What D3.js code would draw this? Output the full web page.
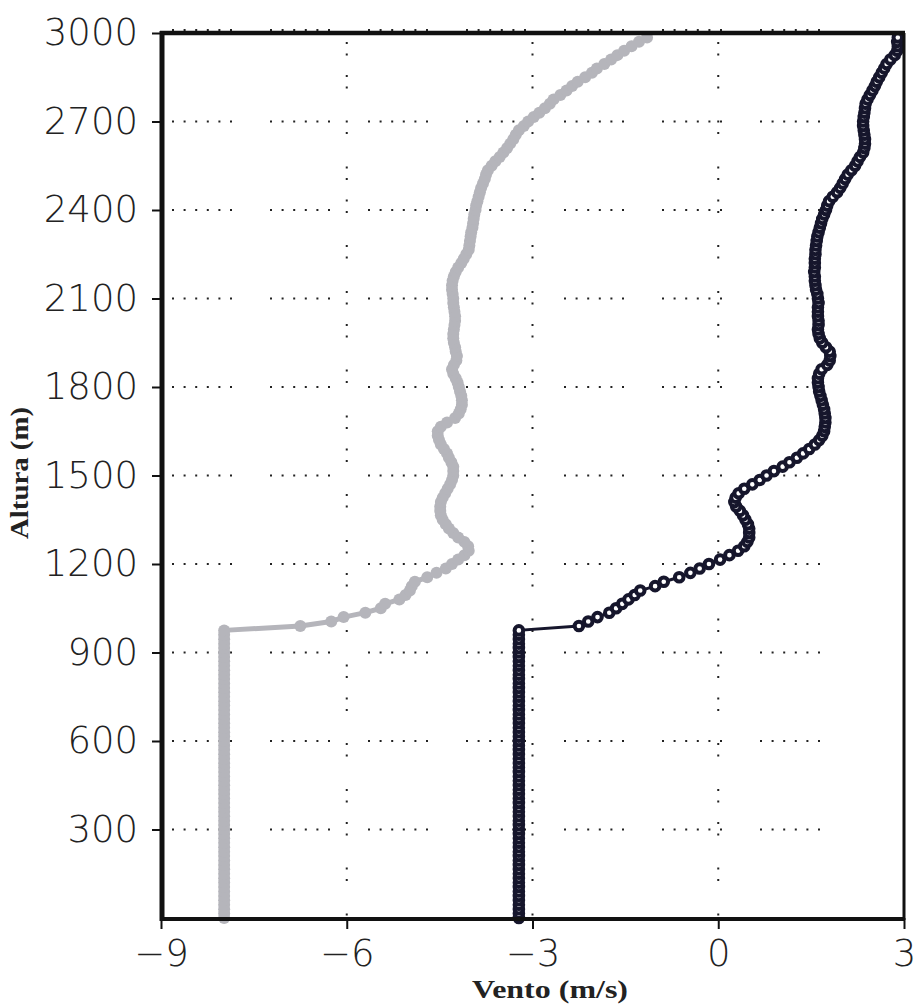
<!DOCTYPE html>
<html>
<head>
<meta charset="utf-8">
<script src="https://cdn.jsdelivr.net/npm/d3@7"></script>
<style>
  body { margin: 0; background: #fff; }
  svg { display: block; }
</style>
</head>
<body>
<svg id="chart" width="915" height="1007"></svg>
<script>
// niveis de altura (m) - sondagem a cada ~15 m
const alturas = [
  0,15,30,45,60,75,90,105,120,135,150,165,180,195,210,225,240,255,270,285,
  300,315,330,345,360,375,390,405,420,435,450,465,480,495,510,525,540,555,570,585,
  600,615,630,645,660,675,690,705,720,735,750,765,780,795,810,825,840,855,870,885,
  900,915,930,945,960,975,
  990,1005,1020,1035,1050,1065,1080,1095,1110,1125,
  1140,1155,1170,1185,1200,1215,1230,1245,1260,1275,
  1290,1305,1320,1335,1350,1365,1380,1395,1410,1425,
  1440,1455,1470,1485,1500,1515,1530,1545,1560,1575,
  1590,1605,1620,1635,1650,1665,1680,1695,1710,1725,
  1740,1755,1770,1785,1800,1815,1830,1845,1860,1875,
  1890,1905,1920,1935,1950,1965,1980,1995,2010,2025,
  2040,2055,2070,2085,2100,2115,2130,2145,2160,2175,
  2190,2205,2220,2235,2250,2265,2280,2295,2310,2325,
  2340,2355,2370,2385,2400,2415,2430,2445,2460,2475,
  2490,2505,2520,2535,2550,2565,2580,2595,2610,2625,
  2640,2655,2670,2685,2700,2715,2730,2745,2760,2775,
  2790,2805,2820,2835,2850,2865,2880,2895,2910,2925,
  2940,2955,2970,2985
];

// componente cinza (m/s)
const ventoCinza = [
  -7.98,-7.98,-7.98,-7.98,-7.98,-7.98,-7.98,-7.98,-7.98,-7.98,-7.98,-7.98,-7.98,-7.98,-7.98,-7.98,-7.98,-7.98,-7.98,-7.98,
  -7.98,-7.98,-7.98,-7.98,-7.98,-7.98,-7.98,-7.98,-7.98,-7.98,-7.98,-7.98,-7.98,-7.98,-7.98,-7.98,-7.98,-7.98,-7.98,-7.98,
  -7.98,-7.98,-7.98,-7.98,-7.98,-7.98,-7.98,-7.98,-7.98,-7.98,-7.98,-7.98,-7.98,-7.98,-7.98,-7.98,-7.98,-7.98,-7.98,-7.98,
  -7.98,-7.98,-7.98,-7.98,-7.98,-7.98,
  -6.75,-6.25,-6.05,-5.70,-5.45,-5.38,-5.15,-5.05,-4.98,-4.95,
  -4.90,-4.70,-4.55,-4.40,-4.30,-4.20,-4.10,-4.03,-4.04,-4.10,
  -4.20,-4.28,-4.35,-4.40,-4.45,-4.48,-4.49,-4.49,-4.48,-4.45,
  -4.41,-4.37,-4.33,-4.30,-4.28,-4.28,-4.28,-4.31,-4.35,-4.38,
  -4.43,-4.48,-4.51,-4.53,-4.53,-4.48,-4.38,-4.25,-4.19,-4.16,
  -4.14,-4.14,-4.15,-4.17,-4.19,-4.21,-4.24,-4.28,-4.30,-4.27,
  -4.23,-4.22,-4.24,-4.25,-4.27,-4.28,-4.28,-4.27,-4.26,-4.25,
  -4.25,-4.26,-4.27,-4.28,-4.28,-4.29,-4.30,-4.30,-4.29,-4.27,
  -4.24,-4.20,-4.15,-4.11,-4.07,-4.03,-4.02,-4.01,-4.00,-3.99,
  -3.97,-3.96,-3.95,-3.94,-3.92,-3.91,-3.89,-3.87,-3.85,-3.83,
  -3.80,-3.77,-3.75,-3.72,-3.66,-3.60,-3.53,-3.47,-3.41,-3.36,
  -3.31,-3.27,-3.22,-3.14,-3.07,-2.98,-2.89,-2.80,-2.72,-2.66,
  -2.55,-2.45,-2.36,-2.27,-2.15,-2.04,-1.96,-1.84,-1.73,-1.63,
  -1.52,-1.40,-1.28,-1.15
];

// componente escura (m/s)
const ventoEscuro = [
  -3.22,-3.22,-3.22,-3.22,-3.22,-3.22,-3.22,-3.22,-3.22,-3.22,-3.22,-3.22,-3.22,-3.22,-3.22,-3.22,-3.22,-3.22,-3.22,-3.22,
  -3.22,-3.22,-3.22,-3.22,-3.22,-3.22,-3.22,-3.22,-3.22,-3.22,-3.22,-3.22,-3.22,-3.22,-3.22,-3.22,-3.22,-3.22,-3.22,-3.22,
  -3.22,-3.22,-3.22,-3.22,-3.22,-3.22,-3.22,-3.22,-3.22,-3.22,-3.22,-3.22,-3.22,-3.22,-3.22,-3.22,-3.22,-3.22,-3.22,-3.22,
  -3.22,-3.22,-3.22,-3.22,-3.22,-3.22,
  -2.25,-2.10,-1.95,-1.76,-1.65,-1.55,-1.45,-1.35,-1.26,-1.02,
  -0.88,-0.63,-0.45,-0.30,-0.15,0.03,0.18,0.32,0.42,0.47,
  0.50,0.50,0.50,0.48,0.44,0.40,0.35,0.29,0.26,0.28,
  0.33,0.42,0.55,0.67,0.78,0.90,1.04,1.15,1.27,1.37,
  1.47,1.56,1.63,1.68,1.71,1.72,1.73,1.73,1.72,1.71,
  1.69,1.67,1.65,1.63,1.62,1.61,1.61,1.63,1.67,1.76,
  1.80,1.81,1.80,1.74,1.68,1.64,1.62,1.61,1.62,1.62,
  1.61,1.61,1.61,1.62,1.61,1.60,1.58,1.57,1.56,1.56,
  1.55,1.56,1.56,1.56,1.57,1.57,1.58,1.59,1.60,1.62,
  1.64,1.66,1.68,1.71,1.74,1.76,1.79,1.85,1.92,1.97,
  2.01,2.05,2.09,2.15,2.21,2.25,2.29,2.34,2.36,2.37,
  2.37,2.36,2.35,2.34,2.34,2.35,2.36,2.37,2.38,2.41,
  2.45,2.49,2.53,2.56,2.60,2.64,2.68,2.72,2.78,2.85,
  2.89,2.90,2.89,2.90
];

const xTicks = [-9, -6, -3, 0, 3];
const yTicks = [300, 600, 900, 1200, 1500, 1800, 2100, 2400, 2700, 3000];
const xGrid = [-6, -3, 0];
const yGrid = [300, 600, 900, 1200, 1500, 1800, 2100, 2400, 2700, 3000];

const mLeft = 161, mRight = 904, mTop = 33, mBottom = 918;

const svg = d3.select("#chart");

const x = d3.scaleLinear().domain([-9, 3]).range([mLeft, mRight]);
const y = d3.scaleLinear().domain([0, 3000]).range([mBottom, mTop]);

const tickFont = "'DejaVu Sans', sans-serif";

// grade pontilhada
const grid = svg.append("g").attr("fill", "none").attr("stroke", "#222").attr("stroke-width", 2);

grid.selectAll("line.h")
  .data(yGrid)
  .join("line")
  .attr("class", "h")
  .attr("x1", x(-9) + 11)
  .attr("x2", x(2.1))
  .attr("y1", d => d == 3000 ? y(d) - 3 : y(d))
  .attr("y2", d => d == 3000 ? y(d) - 3 : y(d))
  .attr("stroke-dasharray", "2,9.6,2,9.6,2,9.6,2,9.6,2,9.6,2,38");

grid.selectAll("line.v")
  .data(xGrid)
  .join("line")
  .attr("class", "v")
  .attr("x1", d => x(d))
  .attr("x2", d => x(d))
  .attr("y1", mTop + 9)
  .attr("y2", mBottom)
  .attr("stroke-dasharray", "2,9.5,2,19.5,2,9.5,2,32,2,9.5,2,32.5");

const pts = alturas.map((h, i) => ({h: h, c: ventoCinza[i], e: ventoEscuro[i]}));

// serie cinza
svg.append("path")
  .datum(pts)
  .attr("fill", "none")
  .attr("stroke", "#b5b5bb")
  .attr("stroke-width", 5)
  .attr("stroke-linejoin", "round")
  .attr("d", d3.line().x(d => x(d.c)).y(d => y(d.h)));

svg.append("g").selectAll("circle")
  .data(pts)
  .join("circle")
  .attr("cx", d => x(d.c))
  .attr("cy", d => y(d.h))
  .attr("r", 6)
  .attr("fill", "#b5b5bb");

// serie escura
svg.append("path")
  .datum(pts)
  .attr("fill", "none")
  .attr("stroke", "#16162c")
  .attr("stroke-width", 3)
  .attr("d", d3.line().x(d => x(d.e)).y(d => y(d.h)));

svg.append("g").selectAll("circle")
  .data(pts)
  .join("circle")
  .attr("cx", d => x(d.e))
  .attr("cy", d => y(d.h))
  .attr("r", 4.3)
  .attr("fill", "#fff")
  .attr("stroke", "#16162c")
  .attr("stroke-width", 4);

// eixos
const yAxis = svg.append("g")
  .attr("transform", `translate(${mLeft},0)`)
  .call(d3.axisLeft(y).tickValues(yTicks).tickFormat(d3.format("d"))
    .tickSize(9).tickSizeOuter(0).tickPadding(14));

const xAxis = svg.append("g")
  .attr("transform", `translate(0,${mBottom})`)
  .call(d3.axisBottom(x).tickValues(xTicks).tickSize(11).tickSizeOuter(0).tickPadding(11));

[yAxis, xAxis].forEach(a => {
  a.select(".domain").remove();
  a.selectAll(".tick line").attr("stroke", "#111").attr("stroke-width", 2);
  a.selectAll(".tick text")
    .attr("fill", "#222")
    .style("font-family", tickFont)
    .style("font-weight", 200)
    .style("font-size", "37px");
});

// moldura
const frame = svg.append("g").attr("stroke", "#111");
frame.append("line").attr("x1", mLeft - 1).attr("x2", mRight + 1).attr("y1", mTop).attr("y2", mTop).attr("stroke-width", 4.5);
frame.append("line").attr("x1", mLeft - 1).attr("x2", mRight + 1).attr("y1", mBottom + 1).attr("y2", mBottom + 1).attr("stroke-width", 4);
frame.append("line").attr("x1", mLeft + 1).attr("x2", mLeft + 1).attr("y1", mTop - 2).attr("y2", mBottom + 3).attr("stroke-width", 5);
frame.append("line").attr("x1", mRight).attr("x2", mRight).attr("y1", mTop).attr("y2", mBottom + 2).attr("stroke-width", 3);

// titulos dos eixos
svg.append("text")
  .attr("x", 550)
  .attr("y", 998)
  .attr("text-anchor", "middle")
  .attr("textLength", 156)
  .attr("lengthAdjust", "spacingAndGlyphs")
  .style("font-family", "'Liberation Serif', serif")
  .style("font-weight", "bold")
  .style("font-size", "25px")
  .attr("fill", "#222")
  .text("Vento (m/s)");

svg.append("text")
  .attr("transform", "translate(28,473) rotate(-90)")
  .attr("text-anchor", "middle")
  .attr("textLength", 132)
  .attr("lengthAdjust", "spacingAndGlyphs")
  .style("font-family", "'Liberation Serif', serif")
  .style("font-weight", "bold")
  .style("font-size", "25px")
  .attr("fill", "#222")
  .text("Altura (m)");
</script>
</body>
</html>
